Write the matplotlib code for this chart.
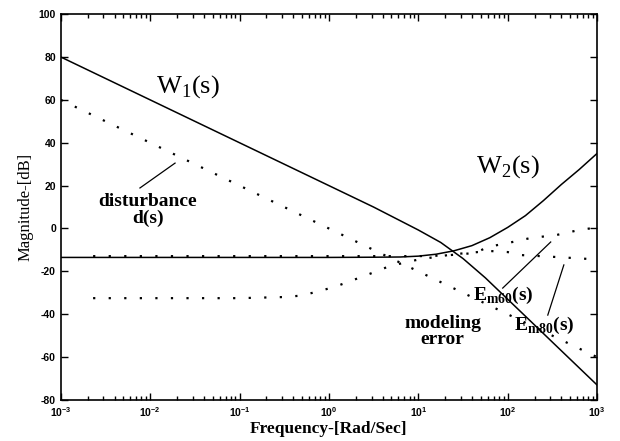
import matplotlib
matplotlib.use("Agg")
import matplotlib.pyplot as plt
from matplotlib.ticker import LogLocator, LogFormatterMathtext, MultipleLocator, NullFormatter

plt.rcParams["mathtext.fontset"] = "custom"
plt.rcParams["mathtext.rm"] = "Liberation Serif"
plt.rcParams["mathtext.bf"] = "Liberation Serif:bold"
plt.rcParams["axes.unicode_minus"] = False

SERIF = "Liberation Serif"
SANS = "Liberation Sans"

# W1(s) - solid
w1_freq = [0.001, 0.01, 0.1, 1, 3.16, 10, 17.8, 31.6, 56.2, 100, 178, 316, 562, 1000]
w1_db = [80, 60, 40, 20, 10, -0.7, -6.5, -14, -23, -33, -43, -53, -63, -73]

# W2(s) - solid
w2_freq = [0.001, 1, 3.16, 6.3, 10, 15.8, 25.1, 39.8, 63.1, 100, 158, 251, 398, 631, 1000]
w2_db = [-13.5, -13.5, -13.4, -13.3, -12.9, -12.0, -10.4, -8, -4.3, 0.5, 6, 13, 20.5, 27.5, 35]

# disturbance d(s) - dotted
d_freq = [0.001, 0.01, 0.1, 1, 10, 100, 1000]
d_db = [60, 40, 20, 0, -20, -40, -60]

# modeling error curves - dotted
e1_freq = [0.0023, 1, 10, 20, 43.7, 60, 100, 178, 355, 631, 1000]
e1_db = [-12.9, -12.9, -12.9, -12.6, -11.4, -8.6, -6.8, -4.5, -3, -0.7, 0.5]
e2_freq = [0.0023, 0.1, 0.3, 0.5, 1.15, 2.0, 3.5, 4.8, 10, 25, 63, 100, 141, 316, 794, 1000]
e2_db = [-32.5, -32.5, -32, -31.3, -27.3, -23.6, -19.8, -17.5, -14.5, -12, -10.5, -11, -12.4, -13.2, -14.2, -14.3]

x_ticks = [1e-3, 1e-2, 1e-1, 1e0, 1e1, 1e2, 1e3]

fig = plt.figure(figsize=(6.2, 4.41), dpi=100)
ax = fig.add_axes([0.098, 0.093, 0.865, 0.875])

dots = (0, (1, 6))
ax.semilogx(w1_freq, w1_db, color="black", lw=1.1)
ax.semilogx(w2_freq, w2_db, color="black", lw=1.1)
ax.semilogx(d_freq, d_db, color="black", lw=1.6, ls=dots)
ax.semilogx(e1_freq, e1_db, color="black", lw=1.6, ls=dots)
ax.semilogx(e2_freq, e2_db, color="black", lw=1.6, ls=dots)

ax.set_xlim(1e-3, 1e3)
ax.set_ylim(-80, 100)
ax.yaxis.set_major_locator(MultipleLocator(20))
ax.set_xticks(x_ticks)
ax.xaxis.set_minor_locator(LogLocator(base=10, subs=range(2, 10), numticks=100))
ax.xaxis.set_major_formatter(LogFormatterMathtext())
ax.xaxis.set_minor_formatter(NullFormatter())
ax.tick_params(which="both", direction="in", top=True, right=True, width=1.0)
ax.tick_params(which="major", length=5)
ax.tick_params(which="minor", length=3)
for lab in ax.get_xticklabels() + ax.get_yticklabels():
    lab.set_fontfamily(SANS)
    lab.set_fontweight("bold")
    lab.set_fontsize(7.5)
for s in ax.spines.values():
    s.set_linewidth(1.2)

ax.set_xlabel("Frequency-[Rad/Sec]", fontfamily=SERIF, fontweight="bold",
              fontsize=12.5, labelpad=2)
ax.set_ylabel("Magnitude-[dB]", fontfamily=SERIF, fontsize=12, labelpad=4)

# annotations
ax.text(0.0266, 66, r"W$_1$(s)", fontfamily=SERIF, fontsize=19,
        ha="center", va="center")
ax.text(100, 28.7, r"W$_2$(s)", fontfamily=SERIF, fontsize=19,
        ha="center", va="center")
ax.text(0.0094, 8.5, "disturbance\nd(s)", fontfamily=SERIF, fontweight="bold",
        fontsize=14, ha="center", va="center", linespacing=1.0)
ax.plot([0.00769, 0.019], [18.9, 30.5], color="black", lw=0.9)
ax.text(18.7, -48, "modeling\nerror", fontfamily=SERIF, fontweight="bold",
        fontsize=14, ha="center", va="center", linespacing=0.9)
ax.text(90, -31, r"E$_{\mathbf{m60}}$(s)", fontfamily=SERIF, fontweight="bold",
        fontsize=14, ha="center", va="center")
ax.plot([88, 303], [-27.8, -6.3], color="black", lw=0.9)
ax.text(260, -45, r"E$_{\mathbf{m80}}$(s)", fontfamily=SERIF, fontweight="bold",
        fontsize=14, ha="center", va="center")
ax.plot([281, 425], [-40.4, -17], color="black", lw=0.9)

fig.savefig("out.png", dpi=100)
